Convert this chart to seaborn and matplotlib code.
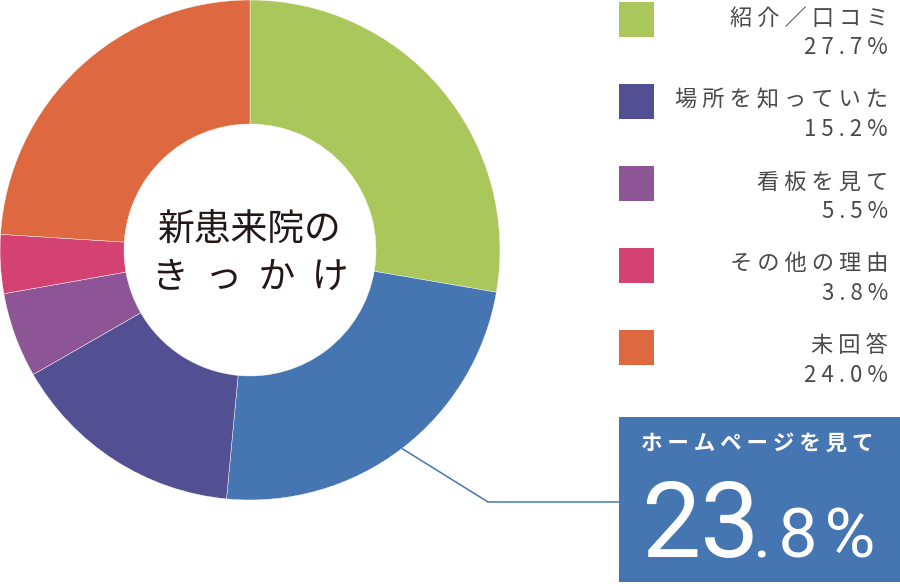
import matplotlib.pyplot as plt
import numpy as np
import seaborn as sns
from matplotlib.patches import Rectangle

# --- data ---
labels = ["紹介／口コミ", "ホームページを見て", "場所を知っていた", "看板を見て", "その他の理由", "未回答"]
values = [27.7, 23.8, 15.2, 5.5, 3.8, 24.0]
colors = ["#a9c75a", "#4676b2", "#534f93", "#8e5596", "#d34272", "#de6940"]
center_title = ["新患来院の", "きっかけ"]
highlight = 1  # the slice pulled out into the blue box

sns.set_theme(style="white")
plt.rcParams["font.family"] = ["Noto Sans CJK JP", "DejaVu Sans"]

W, H = 900, 584
fig = plt.figure(figsize=(W / 100, H / 100), dpi=100)
ax = fig.add_axes([0, 0, 1, 1])


def Y(y):
    # pixel row (top-down) -> data y (bottom-up)
    return H - y


cx, cy, r_out = 250, Y(250), 250
wedges, _ = ax.pie(
    values,
    colors=colors,
    startangle=90,
    counterclock=False,
    radius=r_out,
    center=(cx, cy),
    wedgeprops=dict(width=124, edgecolor="white", linewidth=0.3),
)
ax.set_xlim(0, W)
ax.set_ylim(0, H)
ax.set_aspect("equal")
ax.axis("off")

# centre caption
ax.text(cx, Y(229), center_title[0], ha="center", va="center", fontsize=26.5, color="#231815")
ax.text(cx, Y(277), "  ".join(center_title[1]), ha="center", va="center", fontsize=26.5, color="#231815")

# legend on the right (everything except the highlighted slice)
text_grey = "#4a4a4a"
row = 0
for i, (lab, val, col) in enumerate(zip(labels, values, colors)):
    if i == highlight:
        continue
    top = 2 + 82 * row
    ax.add_patch(Rectangle((619, Y(top + 35)), 35, 35, color=col, lw=0))
    ax.text(888, Y(top + 16), " ".join(lab), ha="right", va="center", fontsize=16, color=text_grey)
    ax.text(888, Y(top + 46), " ".join(f"{val:.1f}%"), ha="right", va="center", fontsize=16, color=text_grey)
    row += 1

# leader line from the highlighted wedge to the box
w = wedges[highlight]
mid = np.deg2rad((w.theta1 + w.theta2) / 2)
sx, sy = cx + r_out * np.cos(mid), cy + r_out * np.sin(mid)
ax.plot([sx, 488, 620], [sy, Y(502), Y(502)], color=colors[highlight], lw=1.1, solid_capstyle="butt")

# highlight box
ax.add_patch(Rectangle((619, Y(582)), 281, 165, color=colors[highlight], lw=0))
ax.text(757, Y(443), " ".join(labels[highlight]), ha="center", va="center",
        fontsize=15.5, fontweight="bold", color="white")
whole, frac = f"{values[highlight]:.1f}".split(".")
ax.text(641, Y(557), whole, ha="left", va="baseline", fontsize=76,
        family=["Roboto", "DejaVu Sans"], fontweight="normal", color="white")
ax.text(753, Y(557), "\u200a".join("." + frac + "%"), ha="left", va="baseline", fontsize=50,
        family=["Roboto", "DejaVu Sans"], fontweight="normal", color="white")

fig.savefig("out.png", dpi=100, facecolor="white")
